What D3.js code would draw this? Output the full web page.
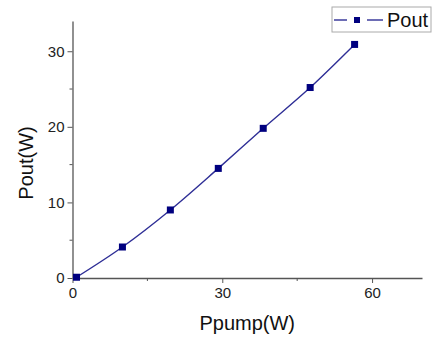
<!DOCTYPE html>
<html>
<head>
<meta charset="utf-8">
<script src="https://cdn.jsdelivr.net/npm/d3@7"></script>
<style>
  body { margin: 0; background: #fff; }
  svg { font-family: "Liberation Sans", Arial, sans-serif; }
</style>
</head>
<body>
<div id="chart"></div>
<script>
// data
const ppump = [0.8, 10.0, 19.6, 29.2, 38.2, 47.6, 56.5];
const pout = [0.1, 4.1, 9.0, 14.5, 19.8, 25.2, 30.9];
const xTicks = [0, 30, 60];
const xMinor = [15, 45];
const yTicks = [0, 10, 20, 30];
const yMinor = [5, 15, 25];
const seriesName = "Pout";

const width = 433, height = 337;
const margin = {top: 21, right: 11, bottom: 59, left: 72.5};
const innerW = width - margin.left - margin.right,
    innerH = height - margin.top - margin.bottom;

const svg = d3.select("#chart")
    .append("svg")
    .attr("width", width)
    .attr("height", height);

const g = svg.append("g")
    .attr("transform", `translate(${margin.left}, ${margin.top})`);

const x = d3.scaleLinear().domain([0, 70]).range([0, innerW]);
const y = d3.scaleLinear().domain([0, 34]).range([innerH, 0]);

const axisColor = "#555";
const lineColor = "#2e2e96";
const markColor = "#00007f";

// x axis
const xAxis = g.append("g")
    .attr("transform", `translate(0, ${innerH})`)
    .call(d3.axisBottom(x).tickValues(xTicks).tickSize(5).tickPadding(4).tickSizeOuter(0));
xAxis.append("g").selectAll("line")
    .data(xMinor)
    .join("line")
    .attr("x1", d => x(d)).attr("x2", d => x(d))
    .attr("y1", 0).attr("y2", 3)
    .attr("stroke", axisColor);

// y axis
const yAxis = g.append("g")
    .call(d3.axisLeft(y).tickValues(yTicks).tickSize(5).tickPadding(3).tickSizeOuter(0));
yAxis.append("g").selectAll("line")
    .data(yMinor)
    .join("line")
    .attr("x1", 0).attr("x2", -3)
    .attr("y1", d => y(d)).attr("y2", d => y(d))
    .attr("stroke", axisColor);

[xAxis, yAxis].forEach(a => {
    a.select(".domain").attr("stroke", axisColor).attr("stroke-width", 1.3);
    a.selectAll(".tick line").attr("stroke", axisColor);
    a.selectAll("text").attr("fill", "#222").style("font-size", "15px")
        .style("font-family", "'Liberation Sans', Arial, sans-serif");
});

// axis titles
svg.append("text")
    .attr("x", margin.left + x(35))
    .attr("y", 330)
    .attr("text-anchor", "middle")
    .attr("fill", "#111")
    .style("font-size", "20px")
    .text("Ppump(W)");

svg.append("text")
    .attr("transform", "translate(33, 163) rotate(-90)")
    .attr("text-anchor", "middle")
    .attr("fill", "#111")
    .style("font-size", "20px")
    .text("Pout(W)");

// series line
const pts = ppump.map((d, i) => [d, pout[i]]);
const line = d3.line()
    .x(d => x(d[0]))
    .y(d => y(d[1]))
    .curve(d3.curveMonotoneX);

g.append("path")
    .datum(pts)
    .attr("d", line)
    .attr("fill", "none")
    .attr("stroke", lineColor)
    .attr("stroke-width", 1.4);

g.selectAll(".pt")
    .data(pts)
    .join("rect")
    .attr("class", "pt")
    .attr("x", d => x(d[0]) - 3.5)
    .attr("y", d => y(d[1]) - 3.5)
    .attr("width", 7)
    .attr("height", 7)
    .attr("fill", markColor);

// legend
const lg = svg.append("g").attr("transform", "translate(332, 7)");
lg.append("rect")
    .attr("width", 99).attr("height", 25)
    .attr("fill", "#fff")
    .attr("stroke", "#aaa");
lg.append("line")
    .attr("x1", 2).attr("x2", 15).attr("y1", 13).attr("y2", 13)
    .attr("stroke", lineColor).attr("stroke-width", 1.4);
lg.append("line")
    .attr("x1", 35).attr("x2", 51).attr("y1", 13).attr("y2", 13)
    .attr("stroke", lineColor).attr("stroke-width", 1.4);
lg.append("rect")
    .attr("x", 22).attr("y", 10).attr("width", 6).attr("height", 6)
    .attr("fill", markColor);
lg.append("text")
    .attr("x", 55).attr("y", 20)
    .attr("fill", "#111")
    .style("font-size", "20px")
    .text(seriesName);
</script>
</body>
</html>
